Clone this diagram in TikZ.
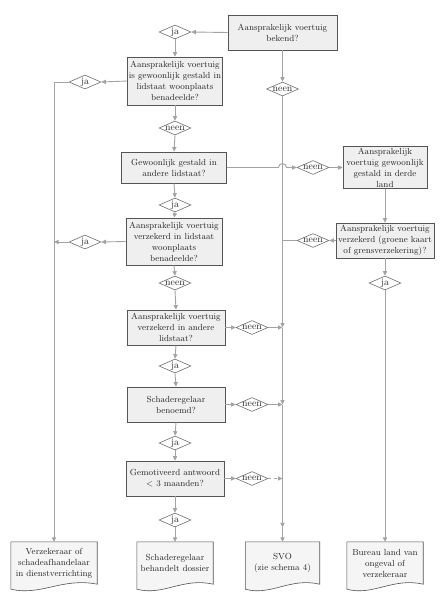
\documentclass[tikz,border=0pt]{standalone}
\usetikzlibrary{shapes.geometric,arrows.meta,calc}
\definecolor{linegray}{HTML}{A3A3A3}
\definecolor{boxedge}{HTML}{555555}
\definecolor{boxfill}{HTML}{EFEFEF}
\definecolor{diaedge}{HTML}{707070}
\definecolor{docfill}{HTML}{F5F5F5}
\definecolor{txt}{HTML}{262626}
\pgfdeclarelayer{background}
\pgfsetlayers{background,main}
\newcommand\docpath[1]{%
  \begin{pgfonlayer}{background}
  \path[docshape] (#1.north west) -- (#1.north east) -- (#1.south east)
    .. controls ($(#1.south east)!0.4!(#1.south west)+(0,-7)$) and ($(#1.south east)!0.65!(#1.south west)+(0,12)$) .. ($(#1.south west)+(0,5)$) -- cycle;
  \end{pgfonlayer}}
\begin{document}
\begin{tikzpicture}[x=1pt,y=-1pt,
  box/.style={draw=boxedge, fill=boxfill, line width=0.8pt, align=center, inner sep=1pt,
    text=txt, font=\fontsize{8.8}{11}\selectfont},
  dec/.style={diamond, draw=diaedge, fill=white, aspect=2.4, inner sep=0pt,
    minimum width=32pt, minimum height=14pt, line width=0.6pt, text=txt,
    font=\fontsize{9.8}{9.8}\selectfont},
  doc/.style={align=center, inner sep=1pt, minimum height=42pt, text=txt,
    font=\fontsize{8.8}{11}\selectfont},
  docshape/.style={draw=boxedge, fill=docfill, line width=0.6pt},
  conn/.style={draw=linegray, line width=0.9pt, -{Triangle[length=4.5pt,width=4.2pt]}},
  plain/.style={draw=linegray, line width=0.9pt}
]
\begin{pgfonlayer}{background}
\fill[white] (0,0) rectangle (445,600);
\end{pgfonlayer}
\useasboundingbox (0,0) rectangle (445,600);

% main boxes
\node[box, minimum width=109pt, minimum height=35pt] (B1) at (282.5,32.5) {Aansprakelijk voertuig\\bekend?};
\node[box, minimum width=95pt, minimum height=48pt] (B2) at (175,81) {Aansprakelijk voertuig\\is gewoonlijk gestald in\\lidstaat woonplaats\\benadeelde?};
\node[box, minimum width=105pt, minimum height=31pt] (B3) at (174,167.5) {Gewoonlijk gestald in\\andere lidstaat?};
\node[box, minimum width=84pt, minimum height=41pt] (R1) at (385,167.5) {Aansprakelijk\\voertuig gewoonlijk\\gestald in derde\\land};
\node[box, minimum width=96pt, minimum height=47pt] (B4) at (174,241.5) {Aansprakelijk voertuig\\verzekerd in lidstaat\\woonplaats\\benadeelde?};
\node[box, minimum width=98pt, minimum height=35pt] (R2) at (385,240.5) {Aansprakelijk voertuig\\verzekerd (groene kaart\\of grensverzekering)?};
\node[box, minimum width=98pt, minimum height=35pt] (B5) at (176,327.5) {Aansprakelijk voertuig\\verzekerd in andere\\lidstaat?};
\node[box, minimum width=98pt, minimum height=35pt] (B6) at (176,404.5) {Schaderegelaar\\benoemd?};
\node[box, minimum width=98pt, minimum height=35pt] (B7) at (175,478.5) {Gemotiveerd antwoord\\\textless{} 3 maanden?};

% decisions
\node[dec] (dJ1) at (175,32) {ja};
\node[dec] (dJL1) at (85,82) {ja};
\node[dec] (dN1) at (282.5,89) {neen};
\node[dec] (dN2) at (175,128) {neen};
\node[dec] (dN3) at (313,167.5) {neen};
\node[dec] (dJ2) at (175,205) {ja};
\node[dec] (dJL2) at (85,242) {ja};
\node[dec] (dN4) at (313,240.5) {neen};
\node[dec] (dJR) at (385,283) {ja};
\node[dec] (dN5) at (175,283) {neen};
\node[dec] (dN6) at (252,327.5) {neen};
\node[dec] (dJ3) at (175,366) {ja};
\node[dec] (dN7) at (252,404.5) {neen};
\node[dec] (dJ4) at (175,443) {ja};
\node[dec] (dN8) at (252,478.5) {neen};
\node[dec] (dJ5) at (175,520) {ja};

% documents
\node[doc, minimum width=86pt] (D1) at (54,563) {Verzekeraar of\\schadeafhandelaar\\in dienstverrichting};
\node[doc, minimum width=76pt] (D2) at (175,563) {Schaderegelaar\\behandelt dossier};
\node[doc, minimum width=74pt] (D3) at (282.5,563) {SVO\\(zie schema 4)};
\node[doc, minimum width=76pt] (D4) at (385,563) {Bureau land van\\ongeval of\\verzekeraar};
\docpath{D1}\docpath{D2}\docpath{D3}\docpath{D4}

\coordinate (cL) at (54,82);

% connectors - centre column
\draw[conn] (B1.west) -- (dJ1.east);
\draw[conn] (dJ1.south) -- (B2.north);
\draw[conn] (B2.south) -- (dN2.north);
\draw[conn] (dN2.south) -- (B3.north);
\draw[conn] (B3.south) -- (dJ2.north);
\draw[conn] (dJ2.south) -- (B4.north);
\draw[conn] (B4.south) -- (dN5.north);
\draw[conn] (dN5.south) -- (B5.north);
\draw[conn] (B5.south) -- (dJ3.north);
\draw[conn] (dJ3.south) -- (B6.north);
\draw[conn] (B6.south) -- (dJ4.north);
\draw[conn] (dJ4.south) -- (B7.north);
\draw[conn] (B7.south) -- (dJ5.north);
\draw[conn] (dJ5.south) -- (D2.north);

% left column
\draw[conn] (B2.west) -- (dJL1.east);
\draw[conn] (dJL1.west) -- (cL) -- (D1.north);
\draw[conn] (B4.west) -- (dJL2.east);
\draw[conn] (dJL2.west) -- (dJL2.west -| cL);

% SVO column
\draw[conn] (B1.south) -- (dN1.north);
\draw[conn] (dN1.south) -- (dN6.east -| dN1.south);
\draw[conn] (dN6.east -| dN1.south) -- (dN7.east -| dN1.south);
\draw[conn] (dN7.east -| dN1.south) -- (dJ5.south -| dN1.south);
\draw[conn] (dJ5.south -| dN1.south) -- (D3.north);
\draw[conn] (B5.east) -- (dN6.west);
\draw[conn] (dN6.east) -- (dN6.east -| dN1.south);
\draw[conn] (B6.east) -- (dN7.west);
\draw[conn] (dN7.east) -- (dN7.east -| dN1.south);
\draw[conn] (B7.east) -- (dN8.west);
\draw[conn, dashed] (dN8.east) -- (dN8.east -| dN1.south);

% right column
\draw[conn] (B3.east) -- ($(B3.east -| dN1.south)+(-4,0)$) arc[start angle=180, end angle=0, radius=4pt] -- (dN3.west);
\draw[conn] (dN3.east) -- (R1.west);
\draw[conn] (R1.south) -- (R2.north);
\draw[conn] (R2.west) -- (dN4.east);
\draw[plain] (dN4.west) -- (dN4.west -| dN1.south);
\draw[conn] (R2.south) -- (dJR.north);
\draw[conn] (dJR.south) -- (D4.north);
\end{tikzpicture}
\end{document}
